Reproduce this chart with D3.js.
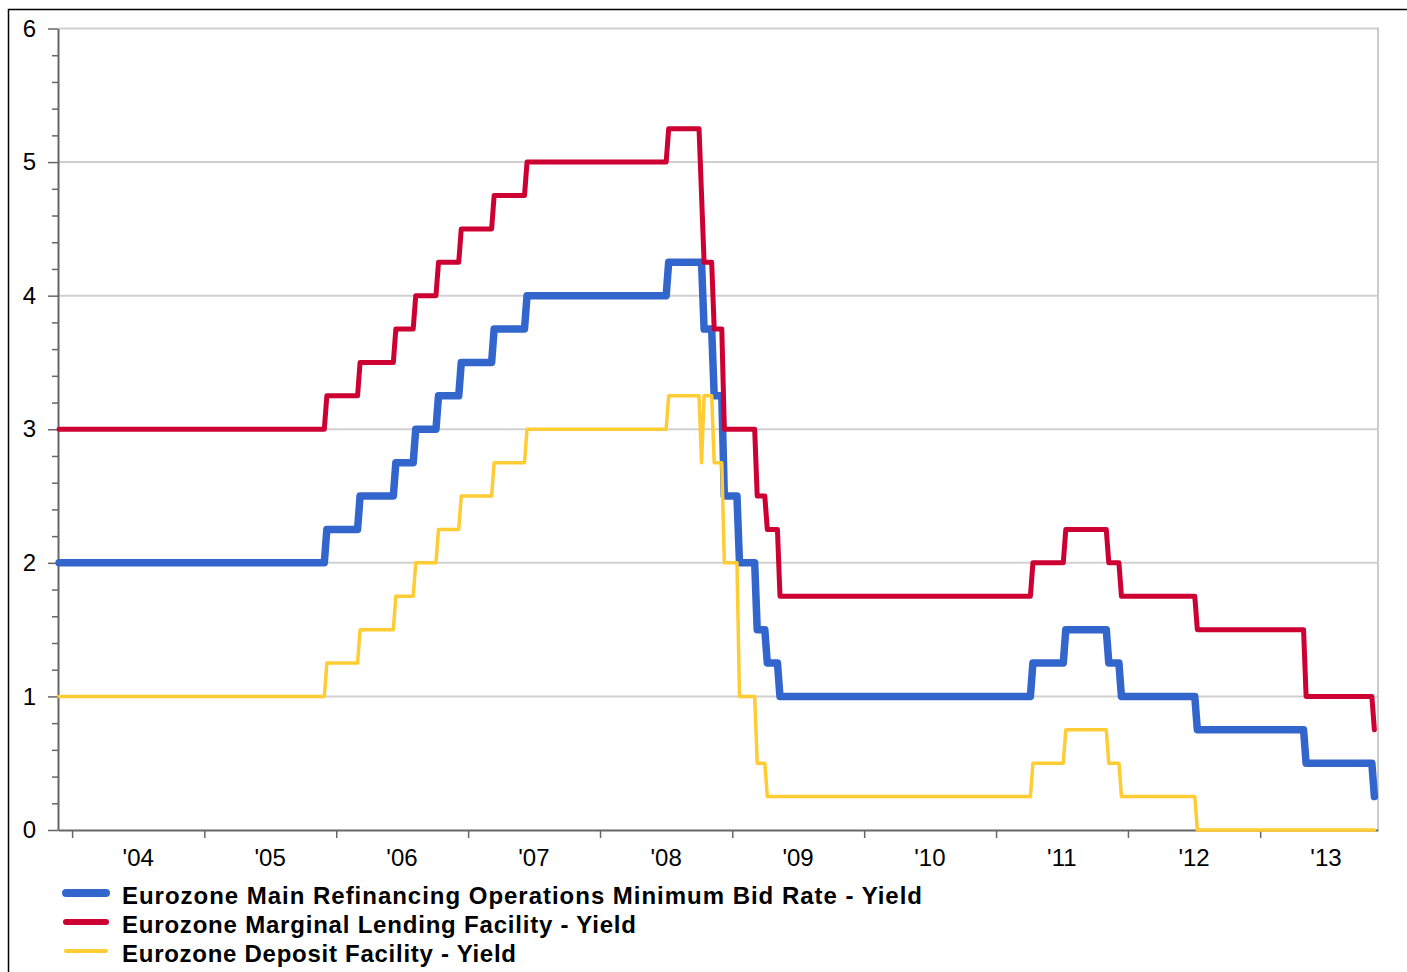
<!DOCTYPE html>
<html>
<head>
<meta charset="utf-8">
<script src="https://cdn.jsdelivr.net/npm/d3@7"></script>
<style>
  body { margin: 0; background: #fff; }
  text { font-family: "Liberation Sans", Arial, sans-serif; fill: #000; }
</style>
</head>
<body>
<div id="chart"></div>
<script>
// ECB policy rates, weekly readings (the reading where each new rate first shows up)
const changeDates = ["2003-11-26", "2005-12-06", "2006-03-08", "2006-06-15", "2006-08-09",
  "2006-10-11", "2006-12-13", "2007-03-14", "2007-06-13", "2008-07-09", "2008-10-08",
  "2008-10-15", "2008-11-12", "2008-12-10", "2009-01-21", "2009-03-11", "2009-04-08",
  "2009-05-13", "2011-04-13", "2011-07-13", "2011-11-09", "2011-12-14", "2012-07-11",
  "2013-05-08", "2013-11-13"];
const mroRates = [2.00, 2.25, 2.50, 2.75, 3.00, 3.25, 3.50, 3.75, 4.00, 4.25, 4.25,
  3.75, 3.25, 2.50, 2.00, 1.50, 1.25, 1.00, 1.25, 1.50, 1.25, 1.00, 0.75, 0.50, 0.25];
const mlfRates = [3.00, 3.25, 3.50, 3.75, 4.00, 4.25, 4.50, 4.75, 5.00, 5.25, 4.75,
  4.25, 3.75, 3.00, 3.00, 2.50, 2.25, 1.75, 2.00, 2.25, 2.00, 1.75, 1.50, 1.00, 0.75];
const dfRates = [1.00, 1.25, 1.50, 1.75, 2.00, 2.25, 2.50, 2.75, 3.00, 3.25, 2.75,
  3.25, 2.75, 2.00, 1.00, 0.50, 0.25, 0.25, 0.50, 0.75, 0.50, 0.25, 0.00, 0.00, 0.00];

const seriesNames = [
  "Eurozone Main Refinancing Operations Minimum Bid Rate - Yield",
  "Eurozone Marginal Lending Facility - Yield",
  "Eurozone Deposit Facility - Yield"
];
const yearLabels = ["'04", "'05", "'06", "'07", "'08", "'09", "'10", "'11", "'12", "'13"];
const yTicks = [0, 1, 2, 3, 4, 5, 6];

const width = 1407,
  height = 972,
  margin = { top: 28.5, bottom: 142, left: 58, right: 29 };

const parseDate = d3.timeParse("%Y-%m-%d");
const weekMs = 7 * 864e5;

// weekly series: the week before a change still carries the old rate
function weeklyPoints(values) {
  const pts = [];
  changeDates.forEach((d, i) => {
    const t = parseDate(d);
    if (i > 0) pts.push([new Date(+t - weekMs), values[i - 1]]);
    pts.push([t, values[i]]);
  });
  return pts;
}

const series = [
  { name: seriesNames[0], values: mroRates, color: "#3366cc", width: 7.5, legendWidth: 8 },
  { name: seriesNames[1], values: mlfRates, color: "#cc0033", width: 5, legendWidth: 6 },
  { name: seriesNames[2], values: dfRates, color: "#ffcc33", width: 3.5, legendWidth: 4 }
];
const legendLengths = [800, 514, 394];

const svg = d3.select("#chart")
  .append("svg")
  .attr("width", width)
  .attr("height", height);

// outer frame
svg.append("rect")
  .attr("x", 8.5).attr("y", 9.5)
  .attr("width", width + 20).attr("height", height + 20)
  .attr("fill", "none")
  .attr("stroke", "#000")
  .attr("stroke-width", 1.5);

const xScale = d3.scaleTime()
  .domain([parseDate("2003-11-23"), parseDate("2013-11-23")])
  .range([margin.left, width - margin.right]);

const yScale = d3.scaleLinear()
  .domain([0, 6])
  .range([height - margin.bottom, margin.top]);

// grid
svg.append("g")
  .selectAll("line")
  .data(yTicks.slice(1))
  .join("line")
  .attr("x1", margin.left).attr("x2", width - margin.right)
  .attr("y1", d => yScale(d)).attr("y2", d => yScale(d))
  .attr("stroke", "#d0d0d0")
  .attr("stroke-width", 2);

svg.append("line")
  .attr("x1", width - margin.right).attr("x2", width - margin.right)
  .attr("y1", yScale(6) - 1).attr("y2", yScale(0))
  .attr("stroke", "#cccccc")
  .attr("stroke-width", 2);

// y axis: minor ticks every 0.2, major every 1
const minorTicks = d3.range(0, 30).map(i => i / 5).filter(v => v % 1 !== 0);

svg.append("g")
  .attr("transform", `translate(${margin.left},0)`)
  .call(d3.axisLeft(yScale).tickValues(minorTicks).tickSize(6).tickFormat("").tickSizeOuter(0))
  .call(g => g.select(".domain").remove())
  .call(g => g.selectAll("line").attr("stroke", "#666").attr("stroke-width", 1.5));

const yAxisGroup = svg.append("g")
  .attr("transform", `translate(${margin.left},0)`)
  .call(d3.axisLeft(yScale).tickValues(yTicks).tickSize(10).tickPadding(12).tickSizeOuter(0)
    .tickFormat(d3.format("d")));
yAxisGroup.select(".domain").attr("stroke", "#666").attr("stroke-width", 2);
yAxisGroup.selectAll("line").attr("stroke", "#666").attr("stroke-width", 1.5);
yAxisGroup.selectAll("text").attr("font-size", 24).attr("fill", "#000");

// x axis: ticks at year starts, labels centred in each year
const yearStarts = d3.range(2004, 2014).map(y => new Date(y, 0, 1));

const xAxisGroup = svg.append("g")
  .attr("transform", `translate(0,${height - margin.bottom})`)
  .call(d3.axisBottom(xScale).tickValues(yearStarts).tickSize(8).tickFormat("").tickSizeOuter(0));
xAxisGroup.select(".domain").attr("stroke", "#666").attr("stroke-width", 2);
xAxisGroup.selectAll("line").attr("stroke", "#666").attr("stroke-width", 1.5);

svg.append("g")
  .selectAll("text")
  .data(yearLabels)
  .join("text")
  .attr("x", (d, i) => xScale(new Date(2004 + i, 6, 2)))
  .attr("y", height - margin.bottom + 36)
  .attr("text-anchor", "middle")
  .attr("font-size", 24)
  .text(d => d);

// lines
const lineFunction = d3.line()
  .x(d => xScale(d[0]))
  .y(d => yScale(d[1]));

svg.append("g")
  .selectAll("path")
  .data(series)
  .join("path")
  .attr("d", d => lineFunction(weeklyPoints(d.values)))
  .attr("fill", "none")
  .attr("stroke", d => d.color)
  .attr("stroke-width", d => d.width)
  .attr("stroke-linejoin", "round")
  .attr("stroke-linecap", "round");

// legend
const legend = svg.append("g")
  .selectAll("g")
  .data(series)
  .join("g")
  .attr("transform", (d, i) => `translate(0,${893 + i * 29})`);

legend.append("line")
  .attr("x1", 66).attr("x2", 106)
  .attr("stroke", d => d.color)
  .attr("stroke-width", d => d.legendWidth)
  .attr("stroke-linecap", "round");

legend.append("text")
  .attr("x", 122)
  .attr("y", 11)
  .attr("font-size", 24)
  .attr("font-weight", "bold")
  .attr("textLength", (d, i) => legendLengths[i])
  .attr("lengthAdjust", "spacing")
  .text(d => d.name);
</script>
</body>
</html>
